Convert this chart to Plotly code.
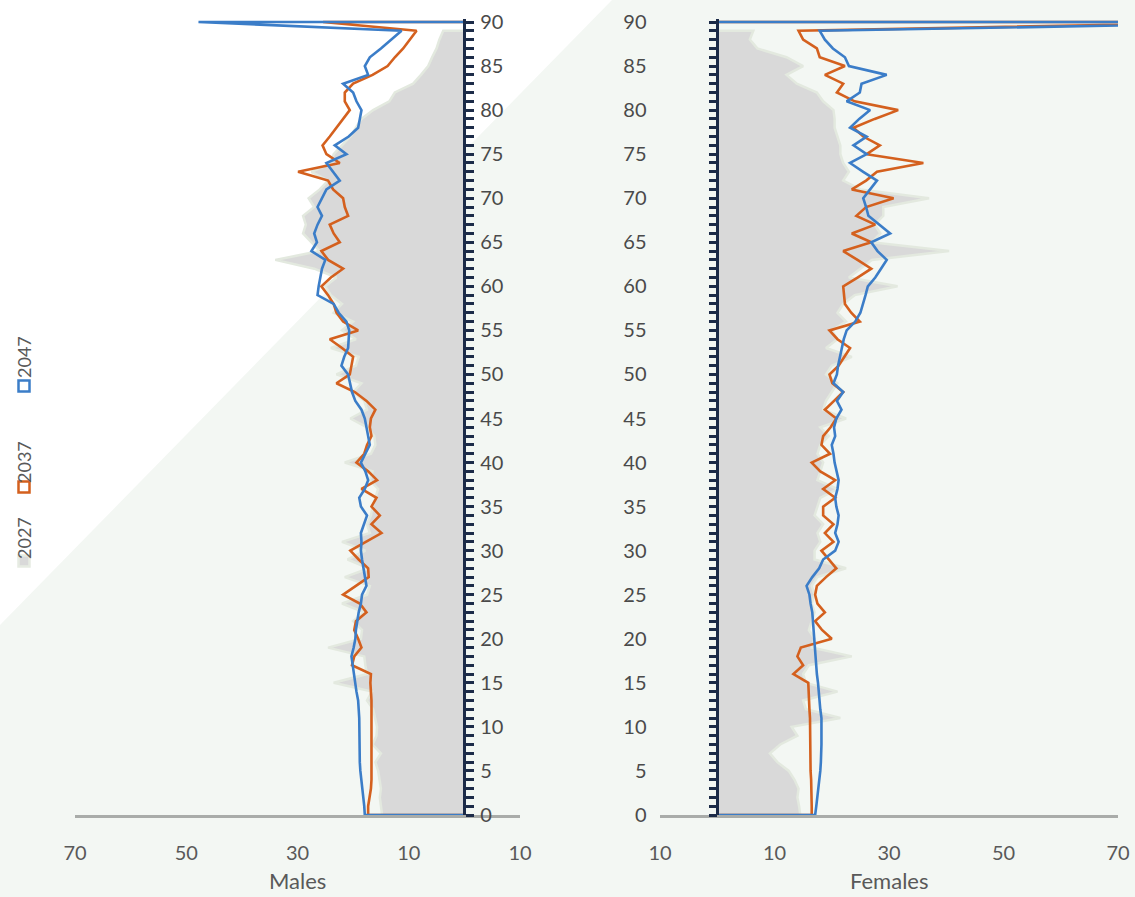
import plotly.graph_objects as go

# ---------------- data ----------------
ages = list(range(0, 91))
age_labels = [str(a) for a in range(0, 91, 5)]
years = ["2027", "2037", "2047"]
x_tickvals_m = [70, 50, 30, 10, -10]
x_tickvals_f = [-10, 10, 30, 50, 70]
x_ticktext_m = ["70", "50", "30", "10", "10"]
x_ticktext_f = ["10", "10", "30", "50", "70"]
side_titles = ["Males", "Females"]

male_2027 = [14.8, 15.0, 15.2, 15.0, 15.3, 15.5, 16.0, 15.0, 16.5, 15.8,
             15.7, 16.0, 16.4, 17.5, 16.6, 23.5, 17.5, 17.8, 18.0, 24.5,
             18.6, 18.4, 20.0, 18.0, 22.0, 17.5, 17.0, 21.5, 17.2, 21.0,
             17.8, 22.0, 17.0, 17.5, 16.8, 16.5, 16.0, 15.5, 17.0, 16.5,
             21.5, 16.8, 16.0, 16.2, 17.5, 20.5, 17.5, 18.0, 20.0, 18.5,
             23.0, 19.5, 19.0, 24.0, 19.5, 22.0, 20.0, 23.5, 22.0, 24.0,
             25.0, 23.0, 27.0, 34.0, 26.0, 27.5, 29.0, 28.5, 29.0, 27.0,
             28.0, 26.0, 24.5, 27.5, 24.0, 23.5, 22.0, 20.5, 19.5, 18.5,
             16.4, 13.5, 12.5, 9.2, 7.8, 6.5, 5.8, 5.0, 4.5, 3.8]

male_2037 = [17.3, 17.3, 17.0, 16.8, 16.7, 16.7, 16.7, 16.7, 16.6, 16.6,
             16.6, 16.6, 16.6, 16.7, 16.8, 16.9, 16.8, 20.2, 19.8, 18.5,
             19.1, 19.8, 19.5, 17.6, 18.8, 21.8, 19.5, 17.2, 17.3, 19.0,
             20.5, 17.6, 14.9, 16.7, 15.2, 16.7, 15.8, 18.5, 15.7, 17.3,
             19.4, 18.0, 17.5, 16.7, 17.0, 16.8, 16.0, 17.6, 19.7, 23.0,
             20.6, 20.3, 20.0, 22.0, 24.2, 19.1, 21.8, 23.0, 23.5, 24.5,
             25.7, 24.0, 21.8, 24.5, 25.7, 22.4, 23.5, 24.2, 20.9, 21.5,
             21.8, 23.6, 24.5, 29.9, 22.4, 24.8, 25.5, 24.2, 23.0, 21.8,
             20.6, 21.5, 21.5, 20.0, 16.5, 13.8, 12.5, 11.0, 9.8, 8.6,
             25.4]

male_2047 = [17.9, 18.0, 18.2, 18.4, 18.6, 18.7, 18.8, 18.8, 18.9, 18.9,
             18.8, 18.9, 19.0, 19.1, 19.4, 19.6, 19.9, 20.1, 20.3, 19.9,
             19.6, 19.5, 19.3, 19.0, 18.6, 18.4, 17.6, 17.9, 18.2, 18.4,
             18.6, 18.5, 18.6, 18.0, 17.5, 18.6, 18.9, 17.9, 17.3, 17.8,
             18.6, 17.8, 17.0, 17.3, 17.6, 17.9, 18.5, 19.6, 20.2, 20.5,
             20.9, 22.1, 21.6, 20.9, 20.8, 20.7, 21.2, 22.6, 23.5, 26.4,
             26.2, 25.9, 25.6, 25.0, 27.5, 26.5, 27.0, 26.4, 25.6, 26.4,
             25.6, 24.8, 22.4, 23.6, 24.8, 21.2, 23.3, 20.8, 19.1, 18.8,
             18.5, 19.4, 20.0, 21.8, 17.3, 17.9, 17.0, 15.0, 13.2, 11.3,
             47.8]

female_2027 = [14.5, 14.3, 14.0, 14.2, 13.5, 12.5, 10.5, 9.2, 11.0, 14.0,
               13.0, 21.5, 15.5, 15.0, 21.0, 15.5, 15.0, 16.0, 23.5, 16.5,
               17.0, 16.0, 16.5, 17.0, 16.5, 17.0, 16.5, 17.5, 22.5, 17.0,
               17.0, 18.0, 17.5, 18.5, 17.0, 17.5, 18.0, 21.0, 17.5, 18.0,
               18.5, 17.5, 18.0, 19.5, 18.0, 22.5, 18.5, 19.0, 20.0, 21.0,
               19.0, 20.0, 23.5, 19.0, 21.0, 20.0, 22.5, 21.0, 22.0, 24.0,
               31.5, 23.0, 25.0, 27.0, 40.5, 27.0, 28.5, 27.5, 29.0, 29.0,
               37.0, 25.0, 22.0, 23.0, 22.0, 21.5, 21.5, 21.0, 20.5, 20.5,
               20.3, 18.5, 17.4, 13.9, 12.1, 15.0, 12.1, 7.0, 5.7, 6.3]

female_2037 = [16.5, 16.5, 16.5, 16.5, 16.4, 16.3, 16.3, 16.2, 16.2, 16.2,
               16.2, 16.2, 16.1, 16.0, 15.9, 15.9, 13.3, 15.0, 14.0, 14.6,
               20.0, 18.3, 17.1, 18.8, 17.5, 17.1, 17.4, 19.0, 20.8, 19.5,
               18.2, 20.3, 18.8, 20.3, 18.5, 18.5, 20.6, 18.5, 20.6, 18.0,
               16.5, 19.7, 18.2, 18.5, 19.8, 20.8, 18.8, 20.4, 22.0, 20.1,
               19.6, 21.2, 22.2, 23.2, 21.0, 19.6, 24.9, 23.4, 22.3, 22.1,
               22.0, 24.5, 26.9, 24.5, 22.0, 26.9, 23.5, 27.6, 24.3, 26.0,
               30.8, 23.5, 26.0, 27.9, 36.0, 26.1, 28.4, 25.5, 23.8, 27.5,
               31.6, 24.0, 20.9, 22.0, 18.8, 22.3, 17.9, 17.4, 15.0, 14.2,
               95.0]

female_2047 = [17.1, 17.3, 17.5, 17.7, 17.9, 18.0, 18.1, 18.2, 18.2, 18.2,
               18.2, 18.2, 18.0, 17.9, 17.7, 17.6, 17.4, 17.3, 17.1, 17.0,
               16.9, 16.8, 16.8, 16.6, 16.3, 16.1, 15.6, 16.6, 17.8, 18.5,
               20.6, 21.2, 20.6, 21.0, 21.2, 20.8, 20.6, 21.0, 21.2, 20.8,
               20.5, 20.3, 20.0, 20.6, 20.4, 20.8, 21.7, 20.9, 22.0, 20.3,
               20.9, 21.1, 21.4, 21.7, 22.1, 22.6, 24.1, 25.0, 25.5, 25.9,
               26.3, 27.6, 28.6, 29.6, 28.0, 26.9, 30.2, 28.4, 26.4, 26.0,
               25.5, 26.7, 27.9, 25.5, 23.2, 26.1, 23.8, 26.1, 23.2, 24.8,
               26.7, 22.6, 24.9, 25.2, 29.6, 23.0, 22.3, 20.2, 18.8, 17.9,
               105.0]

# ---------------- style ----------------
W, H = 1135, 897
T, B = 19, 82
FONT = "Lato, 'Open Sans', sans-serif"
C_GRAY = "#d9d9d9"
C_GLOW = "#e3e9df"
C_ORANGE = "#d4601e"
C_BLUE = "#3b7dc8"
C_NAVY = "#1c2b48"
C_TEXT = "#595959"
C_BG = "#f3f7f3"


def px(x):
    return x / W


def py(y):
    return (H - B - y) / (H - T - B)


fig = go.Figure()


def add_side(xa, ya, v27, v37, v47):
    n = len(v27)
    fig.add_trace(go.Scatter(
        x=[0] + v27 + [0], y=[0] + ages[:n] + [ages[n - 1]],
        mode="lines", fill="toself", fillcolor=C_GRAY,
        line=dict(color=C_GLOW, width=2.5), xaxis=xa, yaxis=ya,
        showlegend=False, hoverinfo="skip"))
    fig.add_trace(go.Scatter(
        x=[0] + v37 + [0], y=[0] + ages + [ages[-1]],
        mode="lines", line=dict(color=C_ORANGE, width=2.6),
        xaxis=xa, yaxis=ya, showlegend=False))
    fig.add_trace(go.Scatter(
        x=[0] + v47 + [0], y=[0] + ages + [ages[-1]],
        mode="lines", line=dict(color=C_BLUE, width=2.6),
        xaxis=xa, yaxis=ya, showlegend=False))


add_side("x", "y", male_2027, male_2037, male_2047)
add_side("x2", "y2", female_2027, female_2037, female_2047)

xcommon = dict(showgrid=False, zeroline=False, showline=True, automargin=False,
               linecolor="#a9aca9", linewidth=2.5,
               ticks="outside", ticklen=18, tickcolor="rgba(0,0,0,0)",
               tickfont=dict(family=FONT, size=20, color=C_TEXT))
ycommon = dict(domain=[0, 1], range=[0, 90.34], showgrid=False, zeroline=False,
               showline=True, linecolor=C_NAVY, linewidth=2.5, automargin=False,
               tickmode="array", tickvals=list(range(0, 91, 5)), ticktext=age_labels,
               ticks="outside", ticklen=8, tickwidth=2.5, tickcolor=C_NAVY,
               minor=dict(dtick=1, tick0=0, ticks="outside", ticklen=8,
                          tickwidth=2.5, tickcolor=C_NAVY),
               tickfont=dict(family=FONT, size=20, color="#4a4a4a"),
               anchor="free")

fig.update_layout(
    width=W, height=H,
    margin=dict(l=0, r=0, t=T, b=B, autoexpand=False),
    paper_bgcolor="white", plot_bgcolor="rgba(0,0,0,0)",
    font=dict(family=FONT, color=C_TEXT),
    xaxis=dict(domain=[px(75), px(520)], range=[70, -10], anchor="y",
               tickmode="array", tickvals=x_tickvals_m, ticktext=x_ticktext_m,
               **xcommon),
    xaxis2=dict(domain=[px(660), px(1118)], range=[-10, 70], anchor="y2",
                tickmode="array", tickvals=x_tickvals_f, ticktext=x_ticktext_f,
                **xcommon),
    yaxis=dict(position=px(464.4), side="right", ticklabelstandoff=2, **ycommon),
    yaxis2=dict(position=px(717.25), side="left", ticklabelstandoff=58, **ycommon),
)

# axis titles (placed as annotations to control their exact offset)
for title, cx in zip(side_titles, [297.5, 889]):
    fig.add_annotation(xref="paper", yref="paper", x=px(cx), y=py(880),
                       xanchor="center", yanchor="middle", showarrow=False,
                       text=title, font=dict(family=FONT, size=22, color=C_TEXT))

# diagonal two-tone background
fig.add_shape(type="path", xref="paper", yref="paper", layer="below",
              path=(f"M 0,{py(625)} L {px(612)},{py(0)} L 1,{py(0)} "
                    f"L 1,{py(897)} L 0,{py(897)} Z"),
              fillcolor=C_BG, line=dict(width=0))

# rotated legend
legend_items = [
    (years[0], 538, 561, C_GRAY, "#e6ebe2"),
    (years[1], 462, 487, "rgba(0,0,0,0)", C_ORANGE),
    (years[2], 357, 386, "rgba(0,0,0,0)", C_BLUE),
]
for label, ty, sy, fillc, linec in legend_items:
    fig.add_annotation(xref="paper", yref="paper", x=px(24), y=py(ty),
                       xanchor="center", yanchor="middle",
                       text=label, textangle=-90, showarrow=False,
                       font=dict(family=FONT, size=18, color=C_TEXT))
    fig.add_shape(type="rect", xref="paper", yref="paper",
                  x0=px(18.5), x1=px(29.5), y0=py(sy + 5.5), y1=py(sy - 5.5),
                  fillcolor=fillc, line=dict(color=linec, width=2.5))

fig.write_html("out.html")
